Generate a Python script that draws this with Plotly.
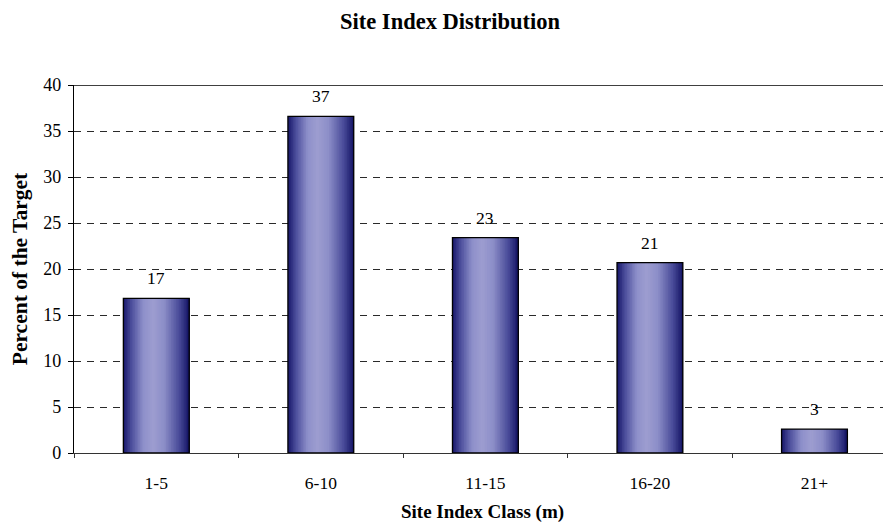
import plotly.graph_objects as go

categories = ["1-5", "6-10", "11-15", "16-20", "21+"]
values = [16.8, 36.6, 23.4, 20.7, 2.6]
labels = ["17", "37", "23", "21", "3"]
y_ticks = [0, 5, 10, 15, 20, 25, 30, 35, 40]

FONT = "Liberation Serif, Times New Roman, serif"
BAR_W = 0.40

# horizontal gradient stops (position 0..1 across bar, rgb)
stops = [(0.0, (22, 22, 105)), (0.12, (75, 77, 155)), (0.30, (142, 144, 202)),
         (0.45, (157, 157, 208)), (0.62, (140, 142, 200)), (0.85, (72, 74, 152)),
         (1.0, (20, 20, 100))]

def color_at(t):
    for (p0, c0), (p1, c1) in zip(stops[:-1], stops[1:]):
        if p0 <= t <= p1:
            f = (t - p0) / (p1 - p0) if p1 > p0 else 0
            c = [round(a + (b - a) * f) for a, b in zip(c0, c1)]
            return f"rgb({c[0]},{c[1]},{c[2]})"
    return "rgb(20,20,100)"

fig = go.Figure()
N = 40
for i in range(N):
    t = (i + 0.5) / N
    start = -BAR_W / 2 + i * BAR_W / N
    fig.add_trace(go.Bar(
        x=categories, y=values,
        width=BAR_W / 2 - start, offset=start,
        marker=dict(color=color_at(t), line=dict(width=0)),
        hoverinfo="skip", showlegend=False,
    ))

fig.add_trace(go.Bar(
    x=categories, y=values, width=BAR_W, offset=-BAR_W / 2,
    marker=dict(color="rgba(0,0,0,0)", line=dict(color="black", width=1.3)),
    hoverinfo="skip", showlegend=False,
))

# value labels above bars
annotations = [
    dict(x=c, y=v, xref="x", yref="y", text=t, showarrow=False,
         yshift=20, yanchor="middle", xanchor="center",
         font=dict(family=FONT, size=17.5, color="black"))
    for c, v, t in zip(categories, values, labels)
]

# page body has an 8px default margin; figure sized to fill the 891x527 window
fig.update_layout(
    barmode="overlay",
    width=883, height=519,
    margin=dict(l=66, r=0, t=77, b=74),
    paper_bgcolor="white", plot_bgcolor="white",
    font=dict(family=FONT, size=17, color="black"),
    title=dict(text="<b>Site Index Distribution</b>", x=0.5006, xref="container",
               y=0.975, yref="container", xanchor="center", yanchor="middle",
               font=dict(family=FONT, size=22.5, color="black")),
    annotations=annotations,
)

fig.update_xaxes(
    range=[-0.5, 4.465], showline=True, linecolor="#333333", linewidth=1.3,
    tickson="boundaries", ticks="outside", ticklen=4,
    tickcolor="#333333", showgrid=False, tickfont=dict(family=FONT, size=17.5),
    ticklabelstandoff=14,
    title=dict(text="<b>Site Index Class (m)</b>", font=dict(family=FONT, size=19), standoff=12),
)
fig.update_yaxes(
    range=[0, 40], tickvals=y_ticks, showline=True, linecolor="black", linewidth=1.3,
    ticks="outside", ticklen=5, tickcolor="black",
    showgrid=True, gridcolor="#2a2a2a", griddash="7px,6px", gridwidth=1,
    zeroline=False, tickfont=dict(family=FONT, size=18), ticklabelstandoff=3,
    title=dict(text="<b>Percent of the Target</b>", font=dict(family=FONT, size=21.5), standoff=12),
)
# solid top border at 40
fig.add_shape(type="line", xref="paper", yref="y", x0=0, x1=1, y0=40, y1=40,
              line=dict(color="black", width=1.3), layer="above")

fig.write_html("out.html")
